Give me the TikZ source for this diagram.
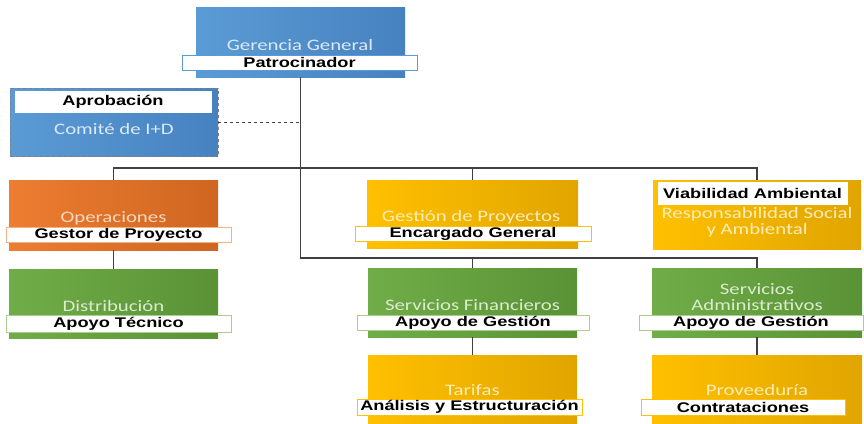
\documentclass[tikz,border=0pt]{standalone}
\usepackage{fontspec}
\newfontfamily\bandfont[FakeStretch=1.3]{Liberation Sans}
\newfontfamily\titlefont[FakeStretch=1.3]{Carlito}
\definecolor{azul}{HTML}{5B9BD5}
\definecolor{azulosc}{HTML}{4682C0}
\definecolor{naranja}{HTML}{ED7D31}
\definecolor{naranjaosc}{HTML}{CF6620}
\definecolor{verde}{HTML}{70AD47}
\definecolor{verdeosc}{HTML}{5A9236}
\definecolor{oro}{HTML}{FFC000}
\definecolor{oroosc}{HTML}{E0A500}
\definecolor{linea}{HTML}{404040}
\tikzset{
  caja/.style={rectangle, minimum width=209pt, minimum height=69pt, inner sep=0pt},
  banda/.style={rectangle, fill=white, draw=#1, line width=0.6pt, minimum height=15pt, inner sep=0pt,
    font=\bandfont\bfseries\fontsize{14}{16}\selectfont, text=black},
  titulo/.style={font=\titlefont\fontsize{16}{16}\selectfont, text=#1, align=center, inner sep=0pt},
  conector/.style={draw=linea, line width=1.1pt},
}
\begin{document}
\begin{tikzpicture}[x=1pt,y=-1pt]
        \useasboundingbox (0,0) rectangle (864,423);
        \node[caja, minimum height=70pt, left color=azul, right color=azulosc] (gerencia) at (300.5,42) {};
        \node[titulo=white!78!azul] (tgerencia) at (300,45) {Gerencia General};
        \node[banda=azul, minimum width=235pt] (patro) at (299.5,62.5) {Patrocinador};
        \node[caja, minimum width=208pt, minimum height=68pt, left color=azul, right color=azulosc,
          draw=gray, dashed, line width=0.5pt] (comite) at (114,122) {};
        \node[banda=white, minimum width=196pt, minimum height=21pt] (aprob) at (113,101.5) {Aprobaci\'on};
        \node[titulo=white!78!azul] (tcomite) at (114,129) {Comit\'e de I+D};
        \node[caja, minimum height=70pt, left color=naranja, right color=naranjaosc] (oper) at (113.5,215) {};
        \node[titulo=white!70!naranja] (toper) at (113.5,218) {Operaciones};
        \node[banda=naranja!60, minimum width=225pt] (gestor) at (118.5,234.5) {Gestor de Proyecto};
        \node[caja, left color=verde, right color=verdeosc] (distrib) at (113.5,303.5) {};
        \node[titulo=white!75!verde] (tdistrib) at (113.5,306) {Distribuci\'on};
        \node[banda=verde!60, minimum width=225pt, minimum height=17pt] (apoyotec) at (118.5,323.5) {Apoyo T\'ecnico};
        \node[caja, minimum width=211pt, minimum height=68pt, left color=oro, right color=oroosc] (gestion) at (472.5,214) {};
        \node[titulo=white!72!oro] (tgestion) at (471,217) {Gesti\'on de Proyectos};
        \node[banda=oro, minimum width=236pt] (encargado) at (473,233.5) {Encargado General};
        \node[caja, minimum width=208pt, left color=oro, right color=oroosc] (viab) at (757,214.5) {};
        \node[banda=white, minimum width=189pt, minimum height=22pt] (viabilidad) at (752.5,193) {Viabilidad Ambiental};
        \node[titulo=white!72!oro] (tviab) at (757,222.5) {Responsabilidad Social\\y Ambiental};
        \node[caja, left color=verde, right color=verdeosc] (servfin) at (472.5,302.5) {};
        \node[titulo=white!75!verde] (tservfin) at (472.5,305.5) {Servicios Financieros};
        \node[banda=verde!60, minimum width=232pt] (apoyofin) at (473,322.5) {Apoyo de Gesti\'on};
        \node[caja, minimum width=210pt, left color=verde, right color=verdeosc] (servadm) at (757,302.5) {};
        \node[titulo=white!75!verde] (tservadm) at (757,297.5) {Servicios\\Administrativos};
        \node[banda=verde!60, minimum width=224pt] (apoyoadm) at (751,322.5) {Apoyo de Gesti\'on};
        \node[caja, minimum height=68pt, left color=oro, right color=oroosc] (tarifas) at (472.5,389) {};
        \node[titulo=white!72!oro] (ttarifas) at (472.5,390) {Tarifas};
        \node[banda=oro, minimum width=225pt, minimum height=16pt] (analisis) at (469.5,407) {An\'alisis y Estructuraci\'on};
        \node[caja, minimum width=210pt, minimum height=68pt, left color=oro, right color=oroosc] (prov) at (757,389) {};
        \node[titulo=white!72!oro] (tprov) at (757,390) {Proveedur\'ia};
        \node[banda=oro, minimum width=204pt, minimum height=16pt] (contrat) at (743,407) {Contrataciones};
        \coordinate (bus1) at (300.5,168);
        \coordinate (bus2) at (300.5,258);
        \draw[conector] (gerencia.south) -- (bus2) -| (servadm.north);
        \draw[conector] (oper.north) |- (bus1) -| (viab.north);
        \draw[conector] (bus1 -| gestion.north) -- (gestion.north);
        \draw[conector] (bus2 -| servfin.north) -- (servfin.north);
        \draw[conector] (oper) -- (distrib);
        \draw[conector] (servfin) -- (tarifas);
        \draw[conector] (servadm) -- (prov);
        \draw[conector, dashed, line width=0.8pt] (comite.east) -- (comite.east -| bus1);
    \end{tikzpicture}
\end{document}
